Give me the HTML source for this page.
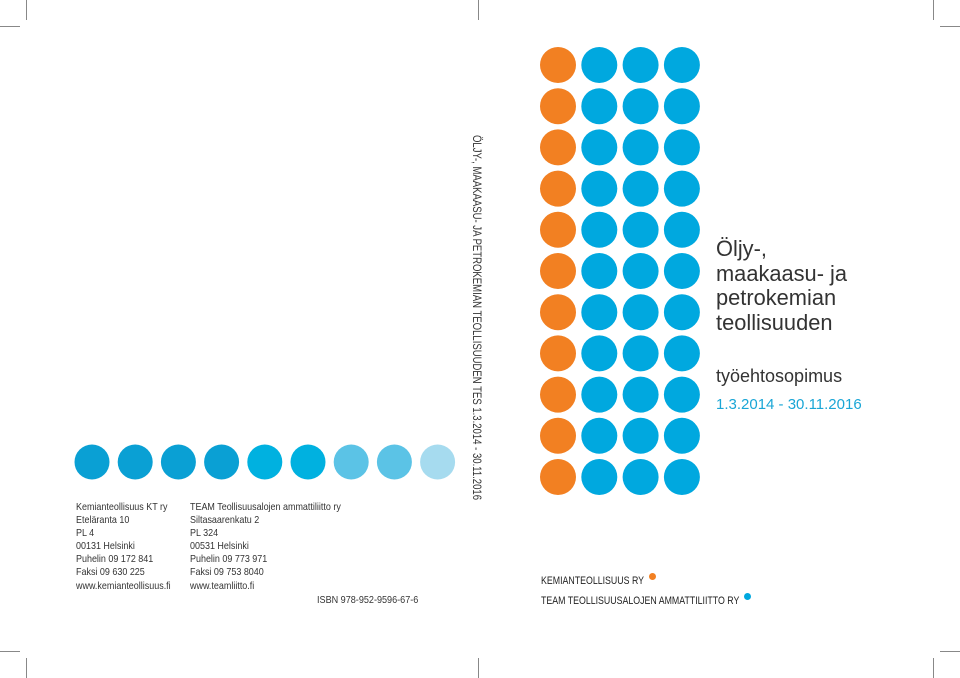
<!DOCTYPE html>
<html><head><meta charset="utf-8"><style>
html,body{margin:0;padding:0;background:#fff;}
#page{position:relative;width:960px;height:678px;overflow:hidden;background:#fff;font-family:"Liberation Sans",sans-serif;color:#222;}
.t{position:absolute;white-space:nowrap;transform-origin:0 0;}
.addr{font-size:10.2px;line-height:13.1px;color:#333;transform:scaleX(0.88);}
.mark{position:absolute;background:#888;}
</style></head><body>
<div id="page">
<svg id="dots" width="960" height="678" style="position:absolute;left:0;top:0"></svg>

<div class="mark" style="left:26px;top:0;width:1px;height:20px"></div>
<div class="mark" style="left:478px;top:0;width:1px;height:20px"></div>
<div class="mark" style="left:933px;top:0;width:1px;height:20px"></div>
<div class="mark" style="left:0;top:26px;width:20px;height:1px"></div>
<div class="mark" style="left:940px;top:26px;width:20px;height:1px"></div>
<div class="mark" style="left:26px;top:658px;width:1px;height:20px"></div>
<div class="mark" style="left:478px;top:658px;width:1px;height:20px"></div>
<div class="mark" style="left:933px;top:658px;width:1px;height:20px"></div>
<div class="mark" style="left:0;top:651px;width:20px;height:1px"></div>
<div class="mark" style="left:940px;top:651px;width:20px;height:1px"></div>

<div class="t" style="left:716px;top:237px;font-size:22.5px;line-height:24.5px;color:#333;transform:scaleX(0.97);">Öljy-,<br>maakaasu- ja<br>petrokemian<br>teollisuuden</div>
<div class="t" style="left:716px;top:366px;font-size:18px;color:#333;">työehtosopimus</div>
<div class="t" style="left:716px;top:396px;font-size:15px;color:#1aa6d6;">1.3.2014 - 30.11.2016</div>

<div class="t" style="left:484px;top:135px;font-size:12.4px;color:#333;transform:rotate(90deg) scaleX(0.77);">ÖLJY-, MAAKAASU- JA PETROKEMIAN TEOLLISUUDEN TES 1.3.2014 - 30.11.2016</div>

<div class="t addr" style="left:76px;top:501px;">Kemianteollisuus KT ry<br>Eteläranta 10<br>PL 4<br>00131 Helsinki<br>Puhelin 09 172 841<br>Faksi 09 630 225<br>www.kemianteollisuus.fi</div>
<div class="t addr" style="left:190px;top:501px;">TEAM Teollisuusalojen ammattiliitto ry<br>Siltasaarenkatu 2<br>PL 324<br>00531 Helsinki<br>Puhelin 09 773 971<br>Faksi 09 753 8040<br>www.teamliitto.fi</div>
<div class="t" style="left:317px;top:595px;font-size:10.2px;color:#333;transform:scaleX(0.89);">ISBN 978-952-9596-67-6</div>

<div class="t" style="left:541px;top:575px;font-size:11px;color:#222;transform:scaleX(0.8);">KEMIANTEOLLISUUS RY</div>
<div class="t" style="left:541px;top:595px;font-size:11px;color:#222;transform:scaleX(0.8);">TEAM TEOLLISUUSALOJEN AMMATTILIITTO RY</div>
<div style="position:absolute;left:649px;top:573px;width:7px;height:7px;border-radius:50%;background:#f28022"></div>
<div style="position:absolute;left:744px;top:593px;width:7px;height:7px;border-radius:50%;background:#00a8df"></div>

<script>
var gridCols = ["orange","blue","blue","blue"];
var gridRows = 11;
var rowColors = ["#0aa0d4","#0aa0d4","#0aa0d4","#0aa0d4","#00b1e0","#00b1e0","#5bc3e6","#5bc3e6","#a6dbef"];
var svg = document.getElementById('dots');
var NS = "http://www.w3.org/2000/svg";
var colX = function(i){return 558 + i*41.3;};
var rowY = function(j){return 65 + j*41.2;};
for (var i=0;i<gridCols.length;i++){
  for (var j=0;j<gridRows;j++){
    var c=document.createElementNS(NS,'circle');
    c.setAttribute('cx',colX(i));c.setAttribute('cy',rowY(j));c.setAttribute('r',18);
    c.setAttribute('fill',gridCols[i]==="orange"?"#f28022":"#00a8df");
    
    
    svg.appendChild(c);
  }
}
for (var k=0;k<rowColors.length;k++){
  var d=document.createElementNS(NS,'circle');
  d.setAttribute('cx',92+k*43.2);d.setAttribute('cy',462);d.setAttribute('r',17.5);
  d.setAttribute('fill',rowColors[k]);
  
  
  svg.appendChild(d);
}
</script>
</div>
</body></html>
